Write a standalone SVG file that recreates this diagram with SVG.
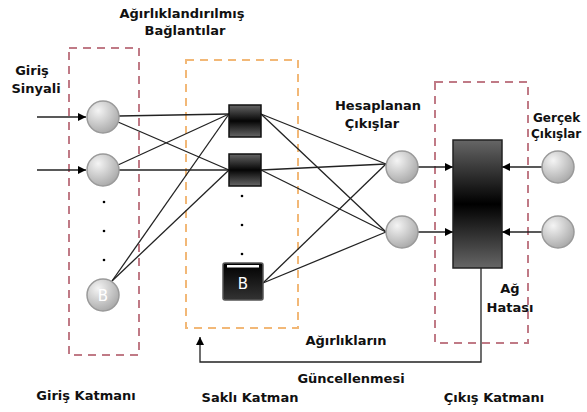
<svg xmlns="http://www.w3.org/2000/svg" width="587" height="412" viewBox="0 0 587 412">
<defs>
<radialGradient id="cg" cx="0.35" cy="0.3" r="0.75">
<stop offset="0" stop-color="#f4f4f4"/>
<stop offset="1" stop-color="#a8a8a8"/>
</radialGradient>
<linearGradient id="sq" x1="0" y1="0" x2="0" y2="1">
<stop offset="0" stop-color="#666"/>
<stop offset="0.5" stop-color="#050505"/>
<stop offset="1" stop-color="#666"/>
</linearGradient>
<linearGradient id="eb" x1="0" y1="0" x2="0" y2="1">
<stop offset="0" stop-color="#666"/>
<stop offset="0.5" stop-color="#000"/>
<stop offset="1" stop-color="#666"/>
</linearGradient>
<linearGradient id="bb" x1="0" y1="0" x2="0" y2="1">
<stop offset="0" stop-color="#000"/>
<stop offset="1" stop-color="#333"/>
</linearGradient>
<marker id="ah" viewBox="0 0 10 10" refX="10" refY="5" markerWidth="8" markerHeight="8" markerUnits="userSpaceOnUse" orient="auto">
<path d="M0,0 L10,5 L0,10 Z" fill="#000"/>
</marker>
</defs>
<style>
.lbl{font-family:"DejaVu Sans",Verdana,sans-serif;font-weight:bold;font-size:13px;fill:#111}
.sm{font-size:12px}
.dashp{fill:none;stroke:#c07a86;stroke-width:2;stroke-dasharray:8,6}
.dasho{fill:none;stroke:#f2b877;stroke-width:2;stroke-dasharray:8,6}
.cir{fill:url(#cg);stroke:#9a9a9a;stroke-width:1.5}
.sq{fill:url(#sq);stroke:#111;stroke-width:1.5}
.ln{stroke:#222;stroke-width:1.3;fill:none}
.arr{stroke:#222;stroke-width:1.3;fill:none;marker-end:url(#ah)}
.dot{fill:#000}
</style>
<rect width="587" height="412" fill="#fff"/>

<g id="boxes">
<rect class="dashp" x="69" y="48" width="70" height="307"/>
<rect class="dasho" x="186" y="60" width="112" height="268"/>
<rect class="dashp" x="435" y="82" width="93" height="261"/>
</g>

<g id="connectors">
<line class="ln" x1="119" y1="116" x2="229" y2="114"/>
<line class="ln" x1="118" y1="122" x2="229" y2="170"/>
<line class="ln" x1="118" y1="165" x2="229" y2="114"/>
<line class="ln" x1="119" y1="170" x2="229" y2="170"/>
<line class="ln" x1="112" y1="281" x2="229" y2="114"/>
<line class="ln" x1="112" y1="281" x2="229" y2="170"/>
<line class="ln" x1="261" y1="114" x2="386" y2="164"/>
<line class="ln" x1="261" y1="114" x2="386" y2="232"/>
<line class="ln" x1="261" y1="170" x2="386" y2="164"/>
<line class="ln" x1="261" y1="170" x2="386" y2="232"/>
<line class="ln" x1="263" y1="283" x2="386" y2="164"/>
<line class="ln" x1="263" y1="283" x2="386" y2="232"/>
<line class="arr" x1="37" y1="117" x2="86" y2="117"/>
<line class="arr" x1="37" y1="170" x2="86" y2="170"/>
<line class="arr" x1="418" y1="167" x2="453" y2="167"/>
<line class="arr" x1="418" y1="232" x2="453" y2="232"/>
<line class="arr" x1="542" y1="167" x2="502" y2="167"/>
<line class="arr" x1="542" y1="232" x2="502" y2="232"/>
<polyline class="arr" points="481,268 481,362 200,362 200,337"/>
</g>

<g id="input1"><circle class="cir" cx="103" cy="117" r="16"/></g>
<g id="input2"><circle class="cir" cx="103" cy="170" r="16"/></g>
<g id="inputDots">
<circle class="dot" cx="104" cy="202" r="1.3"/>
<circle class="dot" cx="104" cy="231" r="1.3"/>
<circle class="dot" cx="104" cy="260" r="1.3"/>
</g>
<g id="inputB">
<circle class="cir" cx="103" cy="295" r="16"/>
<text x="103" y="301" text-anchor="middle" style="font-family:'DejaVu Sans',sans-serif;font-size:15px;fill:#fff">B</text>
</g>

<g id="hidden1"><rect class="sq" x="229" y="105" width="32" height="32"/></g>
<g id="hidden2"><rect class="sq" x="229" y="154" width="32" height="32"/></g>
<g id="hiddenDots">
<circle class="dot" cx="242" cy="196" r="1.3"/>
<circle class="dot" cx="242" cy="225" r="1.3"/>
<circle class="dot" cx="242" cy="254" r="1.3"/>
</g>
<g id="hiddenB">
<rect x="223" y="263" width="40" height="37" rx="2" fill="url(#bb)" stroke="#555" stroke-width="1.5"/>
<rect x="227" y="265" width="32" height="2.5" fill="#fff"/>
<text x="243" y="289" text-anchor="middle" style="font-family:'DejaVu Sans',sans-serif;font-size:15px;fill:#fff">B</text>
</g>

<g id="output1"><circle class="cir" cx="402" cy="167" r="16"/></g>
<g id="output2"><circle class="cir" cx="402" cy="232" r="16"/></g>
<g id="errorBox"><rect x="453" y="140" width="49" height="128" fill="url(#eb)" stroke="#222" stroke-width="1.5"/></g>
<g id="real1"><circle class="cir" cx="558" cy="167" r="16"/></g>
<g id="real2"><circle class="cir" cx="558" cy="232" r="16"/></g>

<g id="labels">
<text class="lbl" x="182" y="18" text-anchor="middle">Ağırlıklandırılmış</text>
<text class="lbl" x="185" y="35" text-anchor="middle">Bağlantılar</text>
<text class="lbl" x="32" y="75" text-anchor="middle">Giriş</text>
<text class="lbl" x="36" y="93" text-anchor="middle">Sinyali</text>
<text class="lbl" x="378" y="110" text-anchor="middle">Hesaplanan</text>
<text class="lbl" x="372" y="128" text-anchor="middle">Çıkışlar</text>
<text class="lbl sm" x="533" y="122">Gerçek</text>
<text class="lbl sm" x="531" y="138">Çıkışlar</text>
<text class="lbl" x="510" y="293" text-anchor="middle">Ağ</text>
<text class="lbl" x="510" y="312" text-anchor="middle">Hatası</text>
<text class="lbl" x="346" y="345" text-anchor="middle">Ağırlıkların</text>
<text class="lbl" x="351" y="383" text-anchor="middle">Güncellenmesi</text>
<text class="lbl" x="86" y="400" text-anchor="middle">Giriş Katmanı</text>
<text class="lbl" x="250" y="402" text-anchor="middle">Saklı Katman</text>
<text class="lbl" x="494" y="402" text-anchor="middle">Çıkış Katmanı</text>
</g>
</svg>
